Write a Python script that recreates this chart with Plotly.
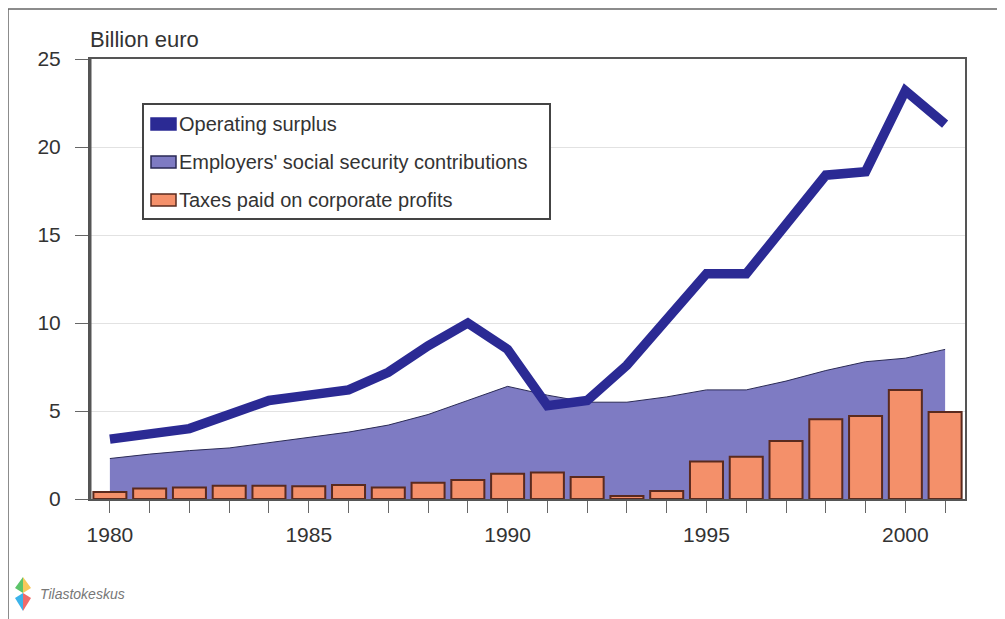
import plotly.graph_objects as go

years = [1980, 1981, 1982, 1983, 1984, 1985, 1986, 1987, 1988, 1989, 1990,
         1991, 1992, 1993, 1994, 1995, 1996, 1997, 1998, 1999, 2000, 2001]
operating_surplus = [3.4, 3.7, 4.0, 4.8, 5.6, 5.9, 6.2, 7.2, 8.7, 10.0, 8.5,
                     5.3, 5.6, 7.6, 10.3, 12.8, 12.8, 15.5, 18.4, 18.6, 23.2, 21.3]
employers_ssc = [2.3, 2.55, 2.75, 2.9, 3.2, 3.5, 3.8, 4.2, 4.8, 5.6, 6.4,
                 5.9, 5.5, 5.5, 5.8, 6.2, 6.2, 6.7, 7.3, 7.8, 8.0, 8.5]
corporate_taxes = [0.4, 0.6, 0.65, 0.75, 0.75, 0.73, 0.8, 0.65, 0.93, 1.08, 1.43,
                   1.5, 1.25, 0.17, 0.45, 2.13, 2.4, 3.3, 4.53, 4.72, 6.2, 4.95]
series_names = ["Operating surplus", "Employers' social security contributions",
                "Taxes paid on corporate profits"]
y_ticks = [0, 5, 10, 15, 20, 25]
x_label_years = [1980, 1985, 1990, 1995, 2000]

LINE_C = "#2b2a94"
AREA_C = "#7e7bc3"
BAR_C = "#f4906a"
BAR_EDGE = "#5a2a1e"
FONT = "Liberation Sans, Arial, sans-serif"
TXT = "#333333"

OFF = 8  # page body margin
W, H = 1005, 619
PL, PT, PR, PB = 90, 59, 965, 499  # plot box in page pixels
ML, MT = PL - OFF, PT - OFF
PW, PH = PR - PL, PB - PT
MR, MB = W - ML - PW, H - MT - PH


def px(x):
    return (x - PL) / PW


def py(y):
    return (PB - y) / PH


fig = go.Figure()
fig.add_trace(go.Scatter(x=years, y=employers_ssc, mode="lines", fill="tozeroy",
                         fillcolor=AREA_C, line=dict(color="#2a2a55", width=1),
                         name=series_names[1], showlegend=False,
                         xaxis="x", yaxis="y"))
fig.add_trace(go.Bar(x=years, y=corporate_taxes, width=0.83,
                     marker=dict(color=BAR_C, line=dict(color=BAR_EDGE, width=2)),
                     name=series_names[2], showlegend=False,
                     xaxis="x", yaxis="y2"))
fig.add_trace(go.Scatter(x=years, y=operating_surplus, mode="lines",
                         line=dict(color=LINE_C, width=9.5),
                         name=series_names[0], showlegend=False,
                         xaxis="x", yaxis="y2"))

shapes = []
annotations = []

# legend box
lx0, lx1, ly0, ly1 = 143, 550, 104, 219
shapes.append(dict(type="rect", xref="paper", yref="paper",
                   x0=px(lx0), x1=px(lx1), y0=py(ly1), y1=py(ly0),
                   fillcolor="white", line=dict(color="#444444", width=2), layer="above"))
legend_items = [
    (series_names[0], 124, LINE_C, LINE_C),
    (series_names[1], 162, AREA_C, "#2a2a55"),
    (series_names[2], 200, BAR_C, BAR_EDGE),
]
for name, yc, fc, lc in legend_items:
    shapes.append(dict(type="rect", xref="paper", yref="paper",
                       x0=px(151), x1=px(176), y0=py(yc + 6), y1=py(yc - 6),
                       fillcolor=fc, line=dict(color=lc, width=1.5), layer="above"))
    annotations.append(dict(text=name, xref="paper", yref="paper", x=px(177), y=py(yc),
                            xanchor="left", yanchor="middle", showarrow=False,
                            font=dict(family=FONT, size=20, color=TXT)))

# thick left axis
shapes.append(dict(type="line", xref="paper", yref="paper", x0=0, x1=0, y0=0, y1=1,
                   line=dict(color="#555555", width=3), layer="above"))

# outer frame (top and left)
shapes.append(dict(type="line", xref="paper", yref="paper", x0=px(8), x1=px(1010),
                   y0=py(9), y1=py(9), line=dict(color="#666666", width=1.5)))
shapes.append(dict(type="line", xref="paper", yref="paper", x0=px(8), x1=px(8),
                   y0=py(9), y1=py(625), line=dict(color="#666666", width=1.5)))

# logo icon
logo_parts = [
    ("#5cc46a", [(23, 577), (15, 588), (23, 593)]),
    ("#f7c85a", [(23, 577), (31, 588), (23, 593)]),
    ("#3bb3ea", [(23, 593), (15, 598), (23, 611)]),
    ("#f06a6a", [(23, 593), (31, 598), (23, 611)]),
]
for col, pts in logo_parts:
    path = "M " + " L ".join(f"{px(a)} {py(b)}" for a, b in pts) + " Z"
    shapes.append(dict(type="path", xref="paper", yref="paper", path=path,
                       fillcolor=col, line=dict(width=0)))
annotations.append(dict(text="<i>Tilastokeskus</i>", xref="paper", yref="paper",
                        x=px(38), y=py(594), xanchor="left", yanchor="middle",
                        showarrow=False, font=dict(family=FONT, size=14, color="#777777")))

annotations.append(dict(text="Billion euro", xref="paper", yref="paper", x=px(88), y=py(40),
                        xanchor="left", yanchor="middle", showarrow=False,
                        font=dict(family=FONT, size=22, color=TXT)))

fig.update_layout(
    width=W, height=H,
    margin=dict(l=ML, r=MR, t=MT, b=MB),
    paper_bgcolor="white", plot_bgcolor="white",
    showlegend=False,
    shapes=shapes, annotations=annotations,
    font=dict(family=FONT, size=21, color=TXT),
    xaxis=dict(range=[1979.5, 2001.5], tickmode="array", tickvals=years,
               ticktext=[str(y) if y in x_label_years else "" for y in years],
               ticks="outside", ticklen=12, tickcolor="#666666", tickwidth=1,
               showline=True, linecolor="#555555", linewidth=2, mirror=True,
               showgrid=False, zeroline=False, ticklabelstandoff=4,
               tickfont=dict(size=21, color=TXT)),
    yaxis=dict(range=[0, 25], tickmode="array", tickvals=y_ticks,
               ticks="outside", ticklen=13, tickcolor="#666666", tickwidth=1,
               showline=True, linecolor="#555555", linewidth=2, mirror=True,
               showgrid=True, gridcolor="#e2e2e2", gridwidth=1, zeroline=False,
               ticklabelstandoff=10, tickfont=dict(size=21, color=TXT)),
    yaxis2=dict(range=[0, 25], overlaying="y", visible=False, showgrid=False,
                zeroline=False),
)

fig.write_html("out.html")
